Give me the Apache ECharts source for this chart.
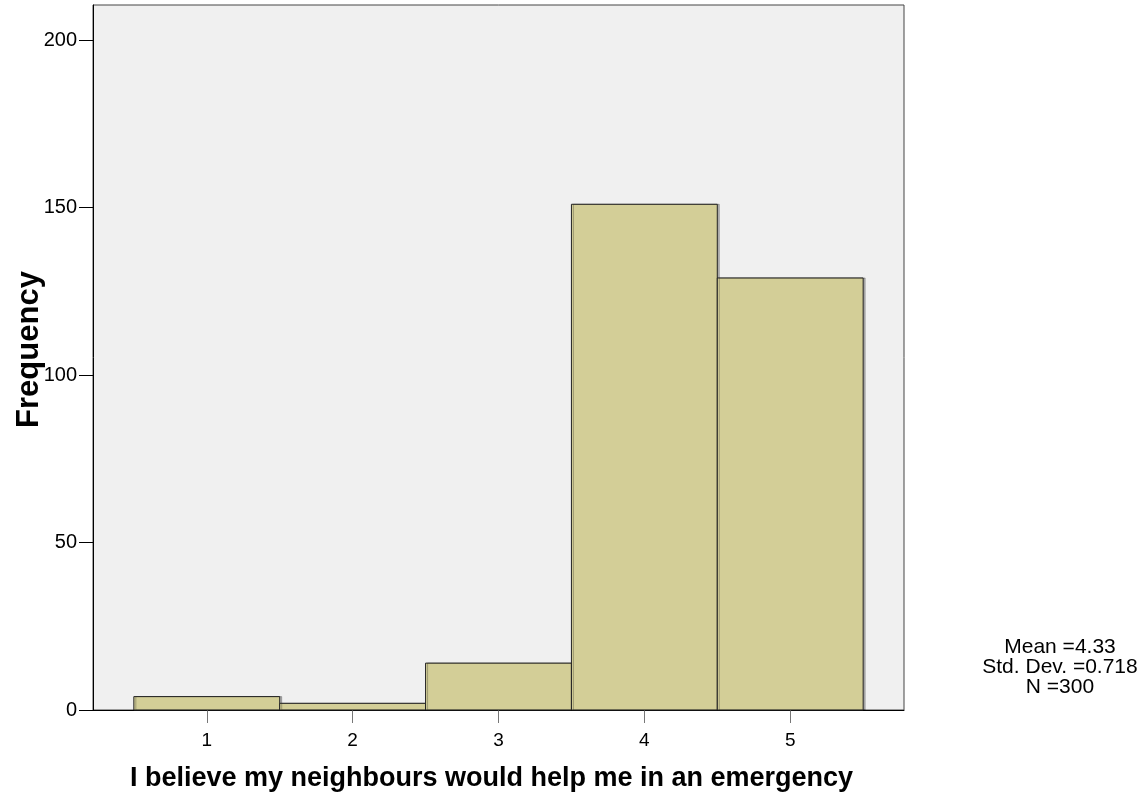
<!DOCTYPE html>
<html>
<head>
<meta charset="utf-8">
<script src="https://cdn.jsdelivr.net/npm/echarts@6/dist/echarts.min.js"></script>
<style>
  html, body { margin: 0; padding: 0; background: #fff; }
  #hist { width: 1147px; height: 802px; }
</style>
</head>
<body>
<div id="hist"></div>
<script>
var categories = [1, 2, 3, 4, 5];
var frequency = [4, 2, 14, 151, 129];
var yTicks = [0, 50, 100, 150, 200];
var statsText = ['Mean =4.33', 'Std. Dev. =0.718', 'N =300'];

var myChart = echarts.init(document.getElementById('hist'));

var barData = categories.map(function (c, i) { return [c, frequency[i]]; });

var option = {
    animation: false,
    textStyle: { fontFamily: 'Liberation Sans, Arial, sans-serif' },
    grid: {
        left: 93, right: 243, top: 5, bottom: 92,
        outerBoundsMode: 'none',
        containLabel: false,
        show: true,
        backgroundColor: '#f0f0f0',
        borderColor: '#444',
        borderWidth: 1
    },
    xAxis: {
        type: 'value',
        min: 0.22,
        max: 5.78,
        name: 'I believe my neighbours would help me in an emergency',
        nameLocation: 'middle',
        nameGap: 55,
        nameTextStyle: { fontSize: 27, fontWeight: 'bold', color: '#000', padding: [0, 14, 0, 0] },
        splitLine: { show: false },
        axisLine: { show: true, lineStyle: { color: '#000' } },
        axisTick: { show: true, customValues: categories, length: 13, lineStyle: { color: '#777' } },
        axisLabel: { customValues: categories, fontSize: 19, color: '#000', margin: 21 }
    },
    yAxis: {
        type: 'value',
        min: 0,
        max: 210.5,
        name: 'Frequency',
        nameLocation: 'middle',
        nameGap: 48,
        nameMoveOverlap: false,
        nameTextStyle: { fontSize: 31, fontWeight: 'bold', color: '#000', padding: [0, 0, 0, 16] },
        splitLine: { show: false },
        axisLine: { show: true, lineStyle: { color: '#000' } },
        axisTick: { show: true, customValues: yTicks, length: 14, lineStyle: { color: '#000' } },
        axisLabel: { customValues: yTicks, fontSize: 20, color: '#000', margin: 16 }
    },
    graphic: [{
        type: 'text',
        x: 1060,
        y: 637,
        style: {
            text: statsText.join('\n'),
            fontSize: 21,
            lineHeight: 20,
            align: 'center',
            fill: '#000',
            fontFamily: 'Liberation Sans, Arial, sans-serif'
        }
    }],
    series: [{
        type: 'custom',
        data: barData,
        renderItem: function (params, api) {
            var x = api.value(0), y = api.value(1);
            var p0 = api.coord([x - 0.5, y]);
            var p1 = api.coord([x + 0.5, 0]);
            return {
                type: 'rect',
                shape: { x: p0[0], y: p0[1], width: p1[0] - p0[0], height: p1[1] - p0[1] },
                style: {
                    fill: '#d3ce97',
                    stroke: '#222',
                    lineWidth: 1,
                    shadowColor: 'rgba(0,0,0,0.25)',
                    shadowOffsetX: 2,
                    shadowOffsetY: 0
                }
            };
        }
    }]
};

myChart.setOption(option);
</script>
</body>
</html>
